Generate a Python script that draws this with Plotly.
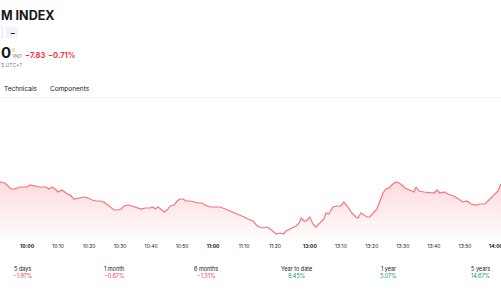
import plotly.graph_objects as go

DAY = "2024-10-18"

times = [
    "09:51:17", "09:52:54", "09:54:50", "09:55:48", "09:57:45", "10:00:00", "10:00:58", "10:02:35",
    "10:04:12", "10:06:08", "10:07:06", "10:08:04", "10:09:02", "10:10:00", "10:11:17", "10:12:35",
    "10:13:52", "10:15:10", "10:16:46", "10:18:23", "10:19:41", "10:20:58", "10:22:15", "10:23:33",
    "10:24:50", "10:26:08", "10:27:06", "10:28:04", "10:29:21", "10:30:19", "10:31:17", "10:32:35",
    "10:33:52", "10:35:10", "10:36:46", "10:38:04", "10:39:41", "10:40:39", "10:41:17", "10:42:15",
    "10:43:14", "10:44:12", "10:45:10", "10:46:08", "10:47:25", "10:48:23", "10:49:21", "10:50:19",
    "10:51:17", "10:52:35", "10:53:52", "10:55:10", "10:56:27", "10:57:25", "10:59:02", "11:00:39",
    "11:02:15", "11:03:52", "11:05:29", "11:07:25", "11:08:43", "11:10:00", "11:11:56", "11:12:54",
    "11:14:12", "11:15:48", "11:17:25", "11:18:23", "11:20:19", "11:21:37", "11:22:35", "11:23:33",
    "11:25:29", "11:26:46", "11:27:45", "11:28:23", "11:29:21", "11:30:00",
    "13:00:00", "13:00:58", "13:01:56", "13:03:14", "13:04:31", "13:05:10", "13:06:08", "13:07:25",
    "13:08:43", "13:10:00", "13:10:58", "13:12:15", "13:13:33", "13:14:50", "13:15:29", "13:16:27",
    "13:17:25", "13:18:23", "13:19:21", "13:20:39", "13:21:37", "13:22:35", "13:23:33", "13:24:31",
    "13:25:29", "13:26:46", "13:27:45", "13:28:43", "13:29:41", "13:30:39", "13:32:15", "13:33:33",
    "13:34:12", "13:35:10", "13:36:46", "13:38:43", "13:40:00", "13:40:58", "13:41:56", "13:43:14",
    "13:44:31", "13:46:27", "13:47:45", "13:49:21", "13:50:39", "13:51:56", "13:53:33", "13:54:50",
    "13:56:27", "13:57:45", "13:59:21", "14:00:39", "14:01:37",
]

prices = [
    1093.12, 1092.97, 1092.10, 1092.10, 1092.39, 1092.39, 1092.68, 1092.54,
    1092.39, 1092.39, 1092.10, 1092.39, 1092.10, 1091.67, 1091.96, 1091.52,
    1091.23, 1090.65, 1090.80, 1090.94, 1090.80, 1090.51, 1090.36, 1090.36,
    1090.22, 1089.78, 1089.49, 1089.06, 1089.06, 1089.20, 1089.64, 1089.78,
    1089.64, 1089.49, 1089.20, 1089.35, 1089.35, 1089.49, 1089.20, 1089.49,
    1089.06, 1088.77, 1089.06, 1089.64, 1089.78, 1090.36, 1090.65, 1090.65,
    1090.36, 1090.36, 1090.22, 1090.07, 1090.07, 1089.78, 1089.49, 1089.49,
    1089.49, 1089.20, 1088.91, 1088.48, 1088.33, 1088.04, 1087.61, 1087.46,
    1086.74, 1086.45, 1086.59, 1086.30, 1085.58, 1085.72, 1085.58, 1086.01,
    1086.45, 1086.74, 1087.17, 1087.90, 1087.46, 1087.46,
    1088.04, 1087.03, 1086.59, 1087.17, 1087.75, 1088.62, 1088.48, 1089.49,
    1089.64, 1089.64, 1090.22, 1089.49, 1088.62, 1088.04, 1087.90, 1088.62,
    1088.33, 1088.04, 1088.04, 1088.62, 1089.20, 1090.36, 1091.52, 1092.10,
    1092.25, 1092.83, 1093.12, 1092.97, 1092.68, 1092.25, 1091.96, 1091.67,
    1092.39, 1091.81, 1091.67, 1091.52, 1091.52, 1091.96, 1091.52, 1091.67,
    1091.38, 1091.09, 1090.65, 1090.22, 1090.36, 1089.93, 1089.78, 1089.93,
    1089.93, 1090.51, 1091.23, 1091.81, 1092.83,
]

tick_times = ["10:00", "10:10", "10:20", "10:30", "10:40", "10:50", "11:00", "11:10", "11:20",
              "13:00", "13:10", "13:20", "13:30", "13:40", "13:50", "14:00"]

perf_labels = ["5 days", "1 month", "6 months", "Year to date", "1 year", "5 years"]
perf_values = [-1.97, -0.67, -1.31, 9.45, 5.07, 14.67]

title_text = "M INDEX"
change_abs = -7.83
change_pct = -0.71

W, H = 501, 300
RED = "#f23645"
GREEN = "#089981"
DARK = "#131722"
GRAY = "#787b86"
FONT = "Inter, Roboto, sans-serif"

x_full = [f"{DAY} {t}" for t in times]

fig = go.Figure()
fig.add_trace(go.Scatter(
    x=x_full, y=prices, mode="lines",
    line=dict(color="rgba(247,82,95,0.8)", width=1.2),
    fill="tozeroy",
    fillgradient=dict(type="vertical", start=1085, stop=1093.2,
                      colorscale=[[0, "rgba(242,54,69,0.02)"], [1, "rgba(242,54,69,0.18)"]]),
    hoverinfo="skip", showlegend=False,
))


def px(x):
    return x / W


def py(y):
    return 1 - y / H


annotations = []


def ann(text, x, y, size, color=DARK, bold=False, xanchor="left"):
    annotations.append(dict(
        text=f"<b>{text}</b>" if bold else text,
        x=px(x), y=py(y), xref="paper", yref="paper",
        xanchor=xanchor, yanchor="middle", showarrow=False,
        font=dict(family=FONT, size=size, color=color),
    ))


ann(title_text, -1, 15, 12.5, DARK, True, "left")
ann("−", 12, 32.5, 8, DARK, True, "center")
ann("0", -1, 53, 15, DARK, True, "left")
ann("0", 10, 50, 5, "#ff9800", False, "left")
ann("VND", 9.5, 57, 4.5, GRAY, False, "left")
ann(f"−{abs(change_abs):.2f}", 22.5, 56, 7.5, RED, True, "left")
ann(f"−{abs(change_pct):.2f}%", 46, 56, 7.5, RED, True, "left")
ann("S UTC+7", -1, 65, 5, GRAY, False, "left")
ann("Technicals", 1.5, 89, 6.5, DARK, False, "left")
ann("Components", 47.5, 89, 6.5, DARK, False, "left")

centers = [22, 113.5, 205.5, 296, 388, 480]
for lab, val, cx in zip(perf_labels, perf_values, centers):
    ann(lab, cx, 269, 5.5, DARK, False, "center")
    s = f"−{abs(val):.2f}%" if val < 0 else f"{val:.2f}%"
    ann(s, cx, 276, 5.5, RED if val < 0 else GREEN, False, "center")

shapes = [
    dict(type="rect", xref="paper", yref="paper", x0=px(6), x1=px(18), y0=py(38), y1=py(27),
         fillcolor="#f0f3fa", line=dict(width=0), layer="below"),
    dict(type="rect", xref="paper", yref="paper", x0=px(-10), x1=px(2.5), y0=py(38), y1=py(27),
         fillcolor="white", line=dict(width=0.8, color="#e0e3eb"), layer="below"),
    dict(type="line", xref="paper", yref="paper", x0=0, x1=1, y0=py(97.5), y1=py(97.5),
         line=dict(width=1, color="#f0f3fa")),
]

tickvals = [f"{DAY} {t}" for t in tick_times]
ticktext = [f"<b>{t}</b>" if t.endswith(":00") else t for t in tick_times]

fig.update_layout(
    width=W, height=H, margin=dict(l=0, r=0, t=0, b=0),
    paper_bgcolor="white", plot_bgcolor="white",
    annotations=annotations, shapes=shapes,
    xaxis=dict(
        type="date", range=[f"{DAY} 09:51:17", f"{DAY} 14:01:37"],
        rangebreaks=[dict(bounds=[11.52, 13], pattern="hour")],
        tickvals=tickvals, ticktext=ticktext, showgrid=False, zeroline=False,
        showline=False, ticks="", ticklabelstandoff=4, ticklabeloverflow="allow",
        automargin=False,
        tickfont=dict(family=FONT, size=5, color=DARK), domain=[0, 1],
    ),
    yaxis=dict(
        range=[1085, 1105], domain=[1 - 238 / H, 1 - 100 / H], automargin=False,
        showgrid=False, zeroline=False, showticklabels=False, showline=False,
    ),
)

fig.write_html("out.html")
